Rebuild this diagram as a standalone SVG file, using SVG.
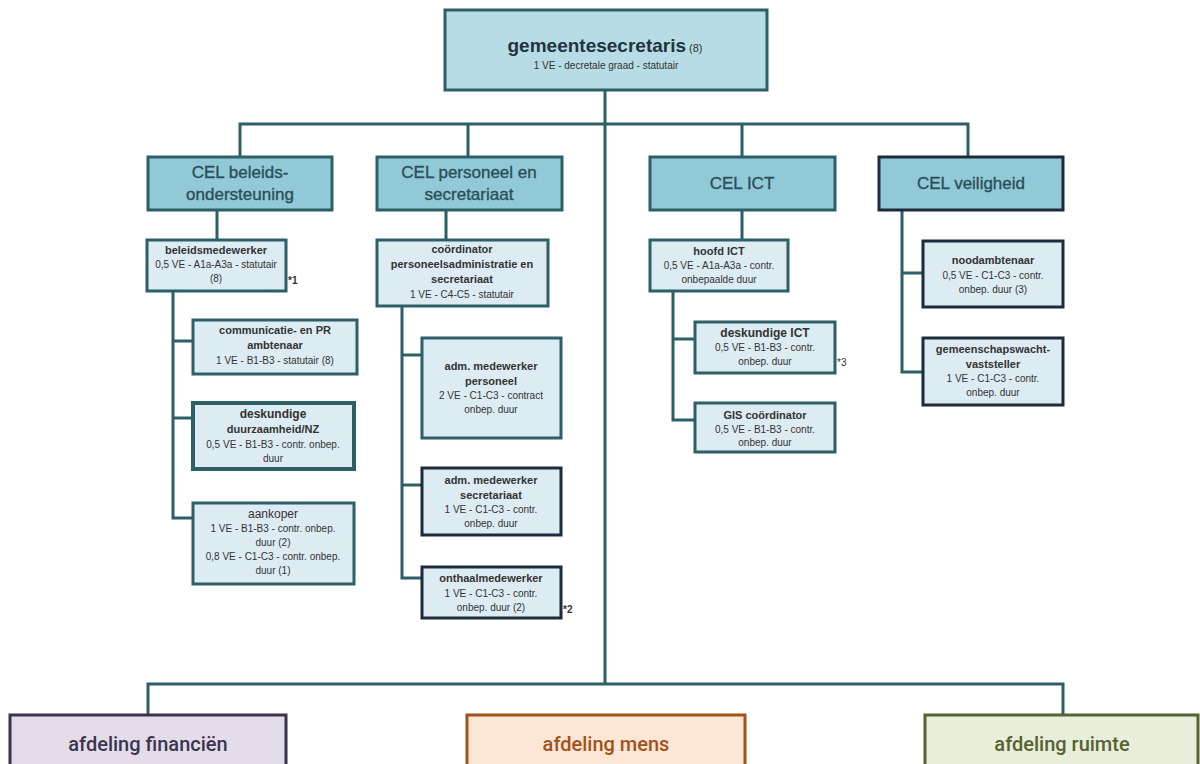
<svg xmlns="http://www.w3.org/2000/svg" width="1200" height="764" viewBox="0 0 1200 764">
<style>
.top{fill:#b8dce5;stroke:#2c5f67;stroke-width:3}
.cel{fill:#92c9d7;stroke:#2c5f67;stroke-width:3}
.celn{fill:#92c9d7;stroke:#1d2b3b;stroke-width:3}
.ch{fill:#dcecf2;stroke:#2c5f67;stroke-width:3}
.chn{fill:#dcecf2;stroke:#1d2b3b;stroke-width:3}
.cht{fill:#dcecf2;stroke:#2c5f67;stroke-width:4}
.conn{fill:none;stroke:#2c5f67;stroke-width:3}
text{font-family:"Liberation Sans",Arial,sans-serif;text-anchor:middle;fill:#333}
.ct{font-size:17px;fill:#2b4f5a;stroke:#2b4f5a;stroke-width:0.35}
.b{font-weight:bold;font-size:11px;fill:#333}
.s{font-size:10px;fill:#333}
.dep{font-family:Roboto,"Liberation Sans",sans-serif;font-size:20px;font-weight:500}
.note{font-size:10px;font-weight:bold;text-anchor:start;fill:#333}
</style>
<g id="connectors" class="conn">
<path d="M605 90V684"/>
<path d="M240 157V124H968V157M468 124V157M742 124V157"/>
<path d="M217 210V240M446 210V240M742 210V240M902 210V372H923M902 273H923"/>
<path d="M173 291V518H193M173 341H193M173 418H193"/>
<path d="M402 306V578H422M402 355H422M402 485H422"/>
<path d="M673 291V420H695M673 339H695"/>
<path d="M148 715V684H1063V715"/>
</g>
<g id="gemeentesecretaris">
<rect class="top" x="445" y="10" width="322" height="80"/>
<text x="605" y="52"><tspan style="font-size:19px;font-weight:bold;fill:#22343e">gemeentesecretaris</tspan><tspan style="font-size:11px" dx="3">(8)</tspan></text>
<text class="s" x="606" y="69">1 VE - decretale graad - statutair</text>
</g>
<g id="cel-beleid">
<rect class="cel" x="148" y="157" width="184" height="53"/>
<text class="ct" x="240" y="178">CEL beleids-</text>
<text class="ct" x="240" y="200">ondersteuning</text>
</g>
<g id="cel-personeel">
<rect class="cel" x="377" y="157" width="185" height="53"/>
<text class="ct" x="469" y="178">CEL personeel en</text>
<text class="ct" x="469" y="200">secretariaat</text>
</g>
<g id="cel-ict">
<rect class="cel" x="650" y="157" width="185" height="53"/>
<text class="ct" x="742" y="189">CEL ICT</text>
</g>
<g id="cel-veiligheid">
<rect class="celn" x="879" y="157" width="184" height="53"/>
<text class="ct" x="971" y="189">CEL veiligheid</text>
</g>
<g id="beleidsmedewerker">
<rect class="ch" x="147" y="240" width="139" height="51"/>
<text class="b" x="216" y="254">beleidsmedewerker</text>
<text class="s" x="216" y="268">0,5 VE - A1a-A3a - statutair</text>
<text class="s" x="216" y="282">(8)</text>
<text class="note" x="288" y="284">*1</text>
</g>
<g id="communicatie">
<rect class="ch" x="193" y="320" width="164" height="54"/>
<text class="b" x="275" y="334">communicatie- en PR</text>
<text class="b" x="275" y="349">ambtenaar</text>
<text class="s" x="275" y="364">1 VE - B1-B3 - statutair (8)</text>
</g>
<g id="deskundige-duurzaamheid">
<rect class="cht" x="193" y="403" width="161" height="66"/>
<text class="b" x="273" y="418" style="font-size:12px">deskundige</text>
<text class="b" x="273" y="433">duurzaamheid/NZ</text>
<text class="s" x="273" y="448">0,5 VE - B1-B3 - contr. onbep.</text>
<text class="s" x="273" y="462">duur</text>
</g>
<g id="aankoper">
<rect class="ch" x="193" y="503" width="161" height="81"/>
<text class="s" x="273" y="518" style="font-size:12px">aankoper</text>
<text class="s" x="273" y="532">1 VE - B1-B3 - contr. onbep.</text>
<text class="s" x="273" y="546">duur (2)</text>
<text class="s" x="273" y="560">0,8 VE - C1-C3 - contr. onbep.</text>
<text class="s" x="273" y="574">duur (1)</text>
</g>
<g id="coordinator">
<rect class="ch" x="377" y="240" width="171" height="66"/>
<text class="b" x="462" y="253">coördinator</text>
<text class="b" x="462" y="268">personeelsadministratie en</text>
<text class="b" x="462" y="283">secretariaat</text>
<text class="s" x="462" y="298">1 VE - C4-C5 - statutair</text>
</g>
<g id="adm-personeel">
<rect class="ch" x="422" y="338" width="139" height="100"/>
<text class="b" x="491" y="370">adm. medewerker</text>
<text class="b" x="491" y="385">personeel</text>
<text class="s" x="491" y="399">2 VE - C1-C3 - contract</text>
<text class="s" x="491" y="413">onbep. duur</text>
</g>
<g id="adm-secretariaat">
<rect class="chn" x="422" y="468" width="139" height="67"/>
<text class="b" x="491" y="484">adm. medewerker</text>
<text class="b" x="491" y="499">secretariaat</text>
<text class="s" x="491" y="513">1 VE - C1-C3 - contr.</text>
<text class="s" x="491" y="527">onbep. duur</text>
</g>
<g id="onthaalmedewerker">
<rect class="chn" x="422" y="567" width="139" height="51"/>
<text class="b" x="491" y="582">onthaalmedewerker</text>
<text class="s" x="491" y="597">1 VE - C1-C3 - contr.</text>
<text class="s" x="491" y="611">onbep. duur (2)</text>
<text class="note" x="563" y="613">*2</text>
</g>
<g id="hoofd-ict">
<rect class="ch" x="650" y="240" width="138" height="51"/>
<text class="b" x="719" y="255">hoofd ICT</text>
<text class="s" x="719" y="269">0,5 VE - A1a-A3a - contr.</text>
<text class="s" x="719" y="283">onbepaalde duur</text>
</g>
<g id="deskundige-ict">
<rect class="ch" x="695" y="322" width="140" height="51"/>
<text class="b" x="765" y="337" style="font-size:12px">deskundige ICT</text>
<text class="s" x="765" y="351">0,5 VE - B1-B3 - contr.</text>
<text class="s" x="765" y="365">onbep. duur</text>
<text class="note" x="837" y="366" style="font-weight:normal">*3</text>
</g>
<g id="gis-coordinator">
<rect class="ch" x="695" y="403" width="140" height="49"/>
<text class="b" x="765" y="419">GIS coördinator</text>
<text class="s" x="765" y="433">0,5 VE - B1-B3 - contr.</text>
<text class="s" x="765" y="446">onbep. duur</text>
</g>
<g id="noodambtenaar">
<rect class="chn" x="923" y="241" width="140" height="66"/>
<text class="b" x="993" y="264">noodambtenaar</text>
<text class="s" x="993" y="279">0,5 VE - C1-C3 - contr.</text>
<text class="s" x="993" y="293">onbep. duur (3)</text>
</g>
<g id="gemeenschapswacht">
<rect class="chn" x="923" y="338" width="140" height="67"/>
<text class="b" x="993" y="353">gemeenschapswacht-</text>
<text class="b" x="993" y="368">vaststeller</text>
<text class="s" x="993" y="382">1 VE - C1-C3 - contr.</text>
<text class="s" x="993" y="396">onbep. duur</text>
</g>
<g id="afdeling-financien">
<rect x="10" y="715" width="276" height="60" fill="#e4dde9" stroke="#3a3350" stroke-width="3"/>
<text class="dep" x="148" y="751" style="fill:#3b3550">afdeling financiën</text>
</g>
<g id="afdeling-mens">
<rect x="467" y="715" width="278" height="60" fill="#fde6d5" stroke="#a0521b" stroke-width="3"/>
<text class="dep" x="606" y="751" style="fill:#a0521b">afdeling mens</text>
</g>
<g id="afdeling-ruimte">
<rect x="925" y="715" width="273" height="60" fill="#e7eedb" stroke="#56622f" stroke-width="3"/>
<text class="dep" x="1062" y="751" style="fill:#56622f">afdeling ruimte</text>
</g>
</svg>
